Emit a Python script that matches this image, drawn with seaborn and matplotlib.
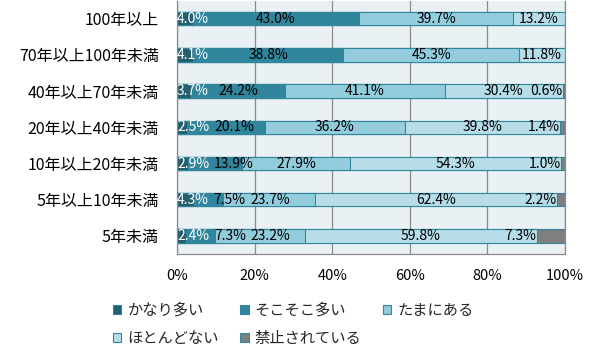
import matplotlib
matplotlib.use("Agg")
import matplotlib.pyplot as plt
import matplotlib.patches as mpatches
import seaborn as sns
import pandas as pd
import numpy as np

categories = ["100年以上", "70年以上100年未満", "40年以上70年未満", "20年以上40年未満",
              "10年以上20年未満", "5年以上10年未満", "5年未満"]
series_names = ["かなり多い", "そこそこ多い", "たまにある", "ほとんどない", "禁止されている"]
kanari = [4.0, 4.1, 3.7, 2.5, 2.9, 4.3, 2.4]
sokosoko = [43.0, 38.8, 24.2, 20.1, 13.9, 7.5, 7.3]
tamani = [39.7, 45.3, 41.1, 36.2, 27.9, 23.7, 23.2]
hotondo = [13.2, 11.8, 30.4, 39.8, 54.3, 62.4, 59.8]
kinshi = [0.0, 0.0, 0.6, 1.4, 1.0, 2.2, 7.3]
colors = ["#245F6E", "#31859C", "#93CDDD", "#B7DEE8", "#7F7F7F"]
edge = "#31859C"

sns.set_theme(style="white")
plt.rcParams["font.family"] = ["Noto Sans CJK JP", "DejaVu Sans"]

values = [kanari, sokosoko, tamani, hotondo, kinshi]
cum = np.cumsum(np.array(values), axis=0)

fig = plt.figure(figsize=(6.0, 3.48), dpi=100)
ax = fig.add_axes([0.295, 0.27, 0.6467, 0.728])
ax.set_facecolor("#EAF1F5")

for k in range(len(series_names) - 1, -1, -1):
    df = pd.DataFrame({"cat": categories, "cum": cum[k]})
    sns.barplot(data=df, x="cum", y="cat", order=categories, orient="h",
                color=colors[k], edgecolor=edge, linewidth=0.8, width=0.37,
                errorbar=None, saturation=1, ax=ax)

ax.set_xlim(0, 100)
ax.set_ylim(6.5, -0.5)
ax.set_xticks([0, 20, 40, 60, 80, 100])
ax.set_xticklabels(["0%", "20%", "40%", "60%", "80%", "100%"])
ax.set_xlabel("")
ax.set_ylabel("")
ax.set_axisbelow(True)
ax.grid(axis="x", color="#8A8A8A", linewidth=0.9)
ax.grid(axis="y", visible=False)
ax.spines["top"].set_visible(False)
for s in ["left", "bottom", "right"]:
    ax.spines[s].set_visible(True)
    ax.spines[s].set_color("#8A8A8A")
    ax.spines[s].set_linewidth(0.9)
ax.tick_params(axis="x", length=0, pad=11, labelsize=10.5, colors="black")
ax.tick_params(axis="y", length=0, pad=13, labelsize=11.5, colors="black")

# data labels
texts_by_row = []
for i in range(len(categories)):
    row = []
    start = 0.0
    for k in range(len(series_names)):
        v = values[k][i]
        if v > 0:
            if k == len(series_names) - 1:
                t = ax.text(start, i, f"{v:.1f}%", ha="right", va="center",
                            fontsize=10, color="black", clip_on=False)
            else:
                t = ax.text(start + v / 2, i, f"{v:.1f}%", ha="center", va="center",
                            fontsize=10, color="white" if k == 0 else "black",
                            clip_on=False)
            row.append(t)
        start += v
    texts_by_row.append(row)

fig.canvas.draw()
renderer = fig.canvas.get_renderer()
ax_bb = ax.get_window_extent(renderer)
inv = ax.transData.inverted()
gap = 5
for row in texts_by_row:
    prev_right = None
    for t in row:
        bb = t.get_window_extent(renderer)
        shift = 0.0
        if bb.x0 < ax_bb.x0:
            shift = ax_bb.x0 - bb.x0
        if prev_right is not None and bb.x0 + shift < prev_right + gap:
            shift = prev_right + gap - bb.x0
        if shift:
            x, y = t.get_position()
            disp = ax.transData.transform((x, y))
            nx, _ = inv.transform((disp[0] + shift, disp[1]))
            t.set_x(nx)
        prev_right = bb.x1 + shift

handles = [mpatches.Patch(facecolor=c, edgecolor=edge, linewidth=0.8) for c in colors]
order = [0, 3, 1, 4, 2]
fig.legend([handles[j] for j in order], [series_names[j] for j in order],
           ncol=3, loc="upper left", bbox_to_anchor=(0.188, 0.133),
           frameon=False, fontsize=11, handlelength=0.55, handleheight=0.55,
           handletextpad=0.4, columnspacing=1.4, labelspacing=0.75,
           borderpad=0, borderaxespad=0)

fig.savefig("out.png", dpi=100, facecolor="white")
